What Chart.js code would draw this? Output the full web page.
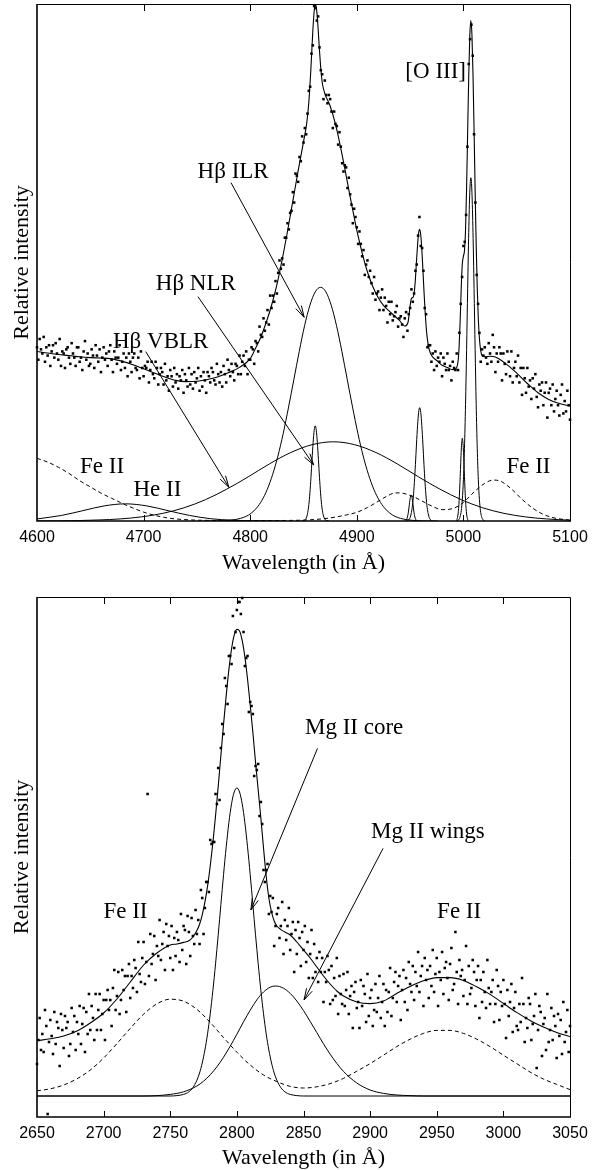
<!DOCTYPE html>
<html>
<head>
<meta charset="utf-8">
<script src="https://cdn.jsdelivr.net/npm/chart.js@4.4.1/dist/chart.umd.min.js"></script>
<style>
  html, body { margin: 0; padding: 0; background: #fff; }
  canvas { display: block; }
</style>
</head>
<body>
<canvas id="hb" width="603" height="575"></canvas>
<canvas id="mg" width="603" height="595"></canvas>
<script>
// ---------- Hβ / [O III] region ----------
const hbTicks = [4600, 4700, 4800, 4900, 5000, 5100];
const hbFluxStart = 4600, hbFluxStep = 1.25;
const hbFlux = [
  84,78,88,83,81,89,77,84,80,85, 75,82,85,79,86,81,78,88,75,82,
  81,74,83,84,79,76,86,81,79,75, 84,84,77,79,73,82,87,78,81,75,
  76,83,80,74,85,80,77,83,72,79, 84,78,81,75,82,85,78,72,82,79,
  76,79,85,73,77,81,74,79,70,81, 77,72,79,81,74,73,79,69,82,74,
  70,75,74,77,67,73,77,71,69,77, 74,66,71,74,72,66,76,68,70,63,
  73,70,65,74,67,71,64,70,68,73, 62,71,68,65,74,66,71,64,72,67,
  69,74,63,70,65,72,68,62,72,70, 67,74,72,68,66,76,71,67,72,65,
  75,71,67,78,73,70,76,72,68,76, 75,71,80,71,77,80,75,82,71,78,
  78,84,83,76,87,86,82,94,90,89, 98,92,96,102,95,109,103,109,106,116,
  110,120,126,122,127,124,137,137,144,141, 149,150,159,154,168,167,164,176,174,186,
  183,190,187,197,208,210,226,230,249,248, 242,244,229,218,216,204,213,206,202,206,
  204,198,190,198,192,191,182,188,181,173, 169,172,171,161,166,158,153,144,151,147,
  142,134,140,134,128,131,119,124,126,118, 121,115,110,118,107,110,111,102,108,112,
  102,108,104,96,106,100,106,97,99,101, 104,94,98,99,95,89,98,101,92,100,
  103,112,106,110,121,124,138,147,133,132, 121,103,100,84,85,85,77,81,73,82,
  75,79,77,81,70,79,76,73,81,73, 75,68,77,74,73,81,73,91,105,118,
  133,135,148,181,221,233,240,225,187,154, 119,105,91,77,83,80,84,79,76,86,
  81,77,90,84,72,81,77,84,81,68, 81,76,71,82,77,70,82,67,74,77,
  70,80,67,74,61,74,69,62,74,65, 68,59,69,64,71,60,55,66,63,67,
  56,62,67,50,62,64,56,66,53,59, 63,56,51,61,66,52,58,53,63,56,
  49
];
const hbFit = [
  [4600,82.0],[4610,81.2],[4620,80.5],[4630,80.0],[4640,79.4],[4650,79.0],[4660,78.8],[4670,78.4],
  [4680,77.2],[4690,75.6],[4700,73.6],[4710,71.6],[4720,69.6],[4730,68.0],[4740,67.4],[4750,67.6],
  [4760,68.4],[4770,69.8],[4780,71.8],[4790,74.3],[4800,78.5],[4805,83.5],[4810,89.0],[4815,96.0],
  [4820,104.2],[4825,114.2],[4830,126.4],[4835,140.1],[4840,154.7],[4845,169.4],[4850,183.3],
  [4853,192.3],[4855,202.5],[4857,219.3],[4858,229.5],[4859,239.2],[4860,246.4],[4861,249.8],
  [4862,248.5],[4863,243.3],[4864,235.7],[4865,227.5],[4866,220.3],[4867,214.6],[4868,210.7],
  [4870,206.7],[4875,200.7],[4880,191.9],[4885,180.2],[4890,167.0],[4895,153.5],[4900,140.6],
  [4905,129.6],[4910,120.4],[4915,113.4],[4920,108.1],[4925,104.3],[4930,101.7],[4935,99.4],
  [4940,97.0],[4945,94.3],[4948,96.0],[4950,104.1],[4951,107.2],[4952,107.9],[4953,108.4],
  [4954,111.0],[4955,117.2],[4956,125.7],[4957,133.5],[4958,139.3],[4959,141.1],[4960,138.3],
  [4961,131.3],[4962,121.8],[4963,111.4],[4964,102.0],[4965,94.4],[4966,88.9],[4967,85.2],
  [4968,82.8],[4970,80.1],[4975,77.6],[4980,75.3],[4985,74.2],[4990,73.2],[4993,73.7],[4995,77.3],
  [4996,84.4],[4997,97.6],[4998,113.2],[4999,124.5],[5000,128.0],[5001,130.7],[5002,140.7],
  [5003,161.1],[5004,188.3],[5005,215.1],[5006,234.6],[5007,242.0],[5008,235.3],[5009,216.2],
  [5010,189.3],[5011,160.0],[5012,133.5],[5013,112.6],[5014,97.7],[5015,88.5],[5016,83.2],
  [5017,80.6],[5018,79.6],[5020,79.4],[5025,79.7],[5030,79.3],[5040,76.0],[5050,71.5],[5060,66.5],
  [5070,62.0],[5080,58.8],[5090,56.8],[5100,55.6]
];
const hbILR = [
  [4756,0],[4766,0],[4776,0.2],[4786,0.7],[4796,2.2],[4801,3.8],[4806,6.3],[4811,10.0],[4816,15.3],
  [4821,22.4],[4826,31.4],[4831,42.4],[4836,55.1],[4841,68.5],[4846,82.0],[4851,94.4],[4856,104.3],
  [4861,110.8],[4866,113],[4871,110.8],[4876,104.3],[4881,94.4],[4886,82.0],[4891,68.5],[4896,55.1],
  [4901,42.4],[4906,31.4],[4911,22.4],[4916,15.3],[4921,10.0],[4926,6.3],[4931,3.8],[4936,2.2],
  [4946,0.7],[4956,0.2],[4966,0],[4976,0]
];
const hbNLR = [
  [4848,0],[4850,0.1],[4851,0.4],[4852,0.9],[4853,2.0],[4854,4.2],[4855,7.9],[4856,13.6],[4857,21.1],
  [4858,29.7],[4859,37.9],[4860,43.8],[4861,46],[4862,43.8],[4863,37.9],[4864,29.7],[4865,21.1],
  [4866,13.6],[4867,7.9],[4868,4.2],[4869,2.0],[4870,0.9],[4871,0.4],[4872,0.1],[4874,0]
];
const hbVBLR = [
  [4600,0.03],[4618,0.08],[4638,0.2],[4658,0.5],[4678,1.0],[4698,2.0],[4718,3.7],[4738,6.4],
  [4758,10.3],[4778,15.4],[4798,21.3],[4818,27.6],[4838,33.1],[4858,36.9],[4878,38.3],[4898,36.9],
  [4918,33.1],[4938,27.6],[4958,21.3],[4978,15.4],[4998,10.3],[5018,6.4],[5038,3.7],[5058,2.0],
  [5078,1.0],[5100,0.4]
];
const hbHeII = [
  [4600,1.0],[4623,2.7],[4643,5.0],[4663,7.3],[4683,8.3],[4703,7.3],[4723,5.0],[4743,2.7],
  [4763,1.1],[4783,0.4],[4803,0.1],[4830,0]
];
const hbFeII = [
  [4600,30.3],[4610,28.5],[4620,26],[4630,23],[4640,19.5],[4650,16.5],[4660,13.5],[4670,11],
  [4680,8.5],[4690,6.3],[4700,4.3],[4710,2.8],[4720,1.7],[4730,1.0],[4745,0.5],[4760,0.3],
  [4800,0.2],[4840,0.3],[4860,0.7],[4875,1.5],[4890,2.9],[4900,4.2],[4910,6.5],[4920,9.5],
  [4930,12.5],[4935,13.5],[4940,13.6],[4950,12.4],[4960,10],[4970,7.3],[4980,5.5],[4990,6.0],
  [5000,9.0],[5010,14],[5020,18.2],[5028,19.8],[5035,19.2],[5045,15.5],[5055,10.5],[5065,6.2],
  [5075,3.2],[5085,1.5],[5100,0.4]
];
const hbO3Core4959 = [
  [4947,0],[4949,0.7],[4950,1.6],[4951,3.5],[4952,6.6],[4953,11.6],[4954,18.6],[4955,27.4],
  [4956,37.2],[4957,46.1],[4958,52.5],[4959,54.8],[4960,52.5],[4961,46.1],[4962,37.2],[4963,27.4],
  [4964,18.6],[4965,11.6],[4966,6.6],[4967,3.5],[4968,1.6],[4969,0.7],[4971,0]
];
const hbO3Blue4959 = [
  [4945,0],[4946,0.3],[4947,1.1],[4948,3.1],[4949,6.8],[4950,10.8],[4951,12.6],[4952,10.8],
  [4953,6.8],[4954,3.1],[4955,1.1],[4956,0.3],[4957,0]
];
const hbO3Core5007 = [
  [4994,0],[4995,0.3],[4996,0.9],[4997,2.2],[4998,5.0],[4999,10.5],[5000,19.9],[5001,35],
  [5002,56.3],[5003,83],[5004,112.5],[5005,139.6],[5006,159],[5007,166],[5008,159],[5009,139.6],
  [5010,112.5],[5011,83],[5012,56.3],[5013,35],[5014,19.9],[5015,10.5],[5016,5.0],[5017,2.2],
  [5018,0.9],[5019,0.3],[5020,0]
];
const hbO3Blue5007 = [
  [4993,0],[4994,0.8],[4995,3.4],[4996,10.0],[4997,21.6],[4998,34.3],[4999,40],[5000,34.3],
  [5001,21.6],[5002,10.0],[5003,3.4],[5004,0.8],[5005,0]
];

// ---------- Mg II region ----------
const mgTicks = [2650, 2700, 2750, 2800, 2850, 2900, 2950, 3000, 3050];
const mgFluxStart = 2650, mgFluxStep = 1;
const mgFlux = [
  16,
  28,39,23,31,22,43,35,-9,27,38, 30,21,42,26,37,34,15,41,33,24,
  40,34,37,20,26,44,32,40,23,37, 31,45,26,36,44,22,42,31,51,33,
  45,39,28,51,33,43,51,33,41,48, 28,48,53,43,48,35,54,63,43,50,
  62,41,48,63,53,60,42,60,66,49, 60,54,68,64,52,77,61,57,69,77,
  56,67,151,60,81,66,71,80,58,75, 70,88,68,76,82,63,86,75,80,69,
  85,63,79,70,82,78,67,91,73,85, 83,66,90,82,70,89,80,76,93,81,
  88,76,103,99,81,94,107,107,102,128, 126,127,127,151,146,164,148,174,186,181,
  209,205,196,220,220,216,240,224,232,243, 247,247,241,249,232,215,219,220,192,197,
  195,191,160,165,163,166,140,147,136,113, 107,113,116,91,100,92,99,75,85,91,
  94,79,85,97,71,88,78,85,94,73, 81,87,62,83,71,87,79,65,82,73,
  85,67,77,59,71,83,59,76,62,69, 57,72,62,69,47,62,57,70,63,46,
  65,48,59,50,69,41,60,51,46,61, 45,53,62,41,50,55,34,52,57,44,
  47,34,58,45,55,51,37,61,40,49, 53,35,43,56,42,49,60,39,47,56,
  35,53,42,52,64,40,49,57,62,47, 55,60,38,53,63,47,59,43,67,56,
  52,65,48,62,55,72,52,60,65,45, 69,58,63,49,65,55,73,52,61,69,
  45,62,58,72,51,64,67,59,48,66, 74,53,56,82,62,46,68,60,63,50,
  58,75,46,65,51,54,68,62,45,58, 65,39,58,47,62,52,44,68,54,46,
  52,58,37,46,63,55,38,52,45,58, 46,29,53,40,47,56,32,44,52,35,
  33,46,37,59,46,27,39,34,49,46, 28,36,40,51,14,33,45,42,20,36,
  39,23,51,27,33,44,28,40,35,19, 41,30,38,21,47,27,32,43,22,35
];
const mgFit = [
  [2650,27.6],[2660,28.6],[2670,30.0],[2680,32.5],[2690,36.5],[2700,41.5],[2710,48.5],[2720,57.0],
  [2730,65.5],[2740,71.5],[2750,75.5],[2755,76.0],[2760,76.8],[2764,77.6],[2767,79.5],[2770,82.7],
  [2772,85.9],[2774,90.6],[2776,96.9],[2778,104.9],[2780,115.0],[2782,126.7],[2784,140.1],
  [2786,154.8],[2788,170.3],[2790,185.8],[2792,200.3],[2794,213.2],[2796,223.5],[2798,230.4],
  [2800,233.3],[2802,232.5],[2804,227.7],[2806,219.6],[2808,208.5],[2810,195.6],[2812,181.8],
  [2814,167.0],[2816,153.0],[2818,139.0],[2820,124.0],[2822,110.0],[2824,99.0],[2826,92.0],
  [2828,87.5],[2830,85.0],[2833,83.2],[2836,82.0],[2840,80.5],[2845,77.0],[2850,73.0],[2855,69.0],
  [2860,64.5],[2865,60.0],[2870,56.0],[2875,52.5],[2880,50.0],[2890,47.0],[2900,46.2],[2910,47.5],
  [2920,51.3],[2930,54.8],[2940,57.6],[2950,59.2],[2960,59.2],[2970,57.8],[2980,54.6],[2990,50.8],
  [3000,46.3],[3010,41.8],[3020,37.8],[3030,34.5],[3040,31.8],[3050,29.7]
];
const mgCore = [
  [2650,0],[2750,0],[2755,0.2],[2760,0.8],[2764,2.1],[2767,4.2],[2770,7.9],[2772,11.5],[2774,16.5],
  [2776,23.0],[2778,31.1],[2780,41.1],[2782,52.8],[2784,66.1],[2786,80.6],[2788,95.7],[2790,110.7],
  [2792,124.6],[2794,136.7],[2796,146.1],[2798,152.0],[2800,154],[2802,152.0],[2804,146.1],
  [2806,136.7],[2808,124.6],[2810,110.7],[2812,95.7],[2814,80.6],[2816,66.1],[2818,52.8],[2820,41.1],
  [2822,31.1],[2824,23.0],[2826,16.5],[2828,11.5],[2830,7.9],[2833,4.2],[2836,2.1],[2840,0.8],
  [2845,0.2],[2850,0],[3050,0]
];
const mgWings = [
  [2650,0],[2730,0],[2740,0.2],[2750,0.8],[2760,2.1],[2770,5.0],[2775,7.4],[2780,10.6],[2785,14.6],
  [2790,19.4],[2795,24.9],[2800,30.9],[2805,37.1],[2810,42.9],[2815,48.1],[2820,52.0],[2825,54.4],
  [2829,55.0],[2835,53.9],[2840,51.3],[2845,47.5],[2850,42.7],[2855,37.3],[2860,31.7],[2865,26.1],
  [2870,20.9],[2875,16.3],[2880,12.3],[2890,6.5],[2900,3.0],[2910,1.3],[2920,0.5],[2930,0.2],
  [2940,0],[3050,0]
];
const mgFeII = [
  [2650,2.6],[2660,3.6],[2670,5.5],[2680,8.6],[2690,13.0],[2700,19.0],[2710,26.2],[2720,33.8],
  [2730,40.9],[2740,46.1],[2750,48.4],[2760,47.4],[2770,43.3],[2780,36.8],[2790,29.2],[2800,21.9],
  [2810,15.5],[2820,10.5],[2830,7.2],[2840,4.8],[2850,4.0],[2860,4.6],[2870,6.2],[2880,8.8],
  [2890,12.4],[2900,16.2],[2910,20.4],[2920,24.7],[2930,28.4],[2940,31.3],[2950,32.8],[2960,32.8],
  [2970,31.3],[2980,28.4],[2990,24.7],[3000,20.4],[3010,16.2],[3020,12.0],[3030,8.5],[3040,5.8],
  [3050,3.2]
];

// ---------- annotation layout (data coordinates) ----------
const hbNotes = [
  { text: 'Hβ ILR',  x: 4784, y: 169 },
  { text: 'Hβ NLR',  x: 4749, y: 114.6 },
  { text: 'Hβ VBLR', x: 4716, y: 86.7 },
  { text: 'Fe II',   x: 4661, y: 26.3 },
  { text: 'He II',   x: 4713, y: 15.0 },
  { text: 'Fe II',   x: 5061, y: 26.3 },
  { text: '[O III]', x: 4974, y: 217.3 }
];
const hbPointers = [
  { from: [4782, 163.6], to: [4850.6, 98.5] },
  { from: [4751, 108.5], to: [4859.6, 27.1] },
  { from: [4702, 81.9],  to: [4780, 16.3] }
];
const mgNotes = [
  { text: 'Mg II core',  x: 2888,   y: 183.9 },
  { text: 'Mg II wings', x: 2943.4, y: 132.2 },
  { text: 'Fe II',       x: 2716.4, y: 92.2 },
  { text: 'Fe II',       x: 2966.8, y: 92.2 }
];
const mgPointers = [
  { from: [2860.5, 173.8], to: [2810.5, 93] },
  { from: [2909.7, 123.8], to: [2850.4, 48] }
];

// ---------- drawing ----------
const SERIF = '"Liberation Serif", "Times New Roman", serif';
const SANS = '"Liberation Sans", Arial, sans-serif';

function gridPoints(start, step, values) {
  return values.map((v, i) => ({ x: start + i * step, y: v }));
}

function curve(data, dashed, width) {
  return {
    data, showLine: true, pointRadius: 0, pointHoverRadius: 0,
    borderColor: '#000', borderWidth: width || 1,
    borderDash: dashed ? [4, 3] : [], cubicInterpolationMode: 'monotone',
    fill: false
  };
}

function dots(data) {
  return {
    data, showLine: false, pointStyle: 'rect', pointRadius: 1.8,
    pointBackgroundColor: '#000', pointBorderWidth: 0, borderWidth: 0, clip: false
  };
}

function drawPointer(ctx, x0, y0, x1, y1) {
  const ang = Math.atan2(y1 - y0, x1 - x0);
  const len = 12, spread = 0.27;
  ctx.beginPath();
  ctx.moveTo(x0, y0);
  ctx.lineTo(x1, y1);
  ctx.moveTo(x1 - len * Math.cos(ang - spread), y1 - len * Math.sin(ang - spread));
  ctx.lineTo(x1, y1);
  ctx.lineTo(x1 - len * Math.cos(ang + spread), y1 - len * Math.sin(ang + spread));
  ctx.stroke();
}

const panelDecor = {
  id: 'panelDecor',
  afterDatasetsDraw(chart, args, opts) {
    const { ctx, chartArea: a, scales: { x, y } } = chart;
    ctx.save();
    ctx.strokeStyle = '#000';
    // frame: thin top/right, heavier left/bottom
    ctx.lineWidth = 1;
    ctx.beginPath();
    ctx.moveTo(a.left, a.top + 0.5); ctx.lineTo(a.right + 0.5, a.top + 0.5);
    ctx.lineTo(a.right + 0.5, a.bottom);
    ctx.stroke();
    ctx.lineWidth = 1.6;
    ctx.beginPath();
    ctx.moveTo(a.left, a.top); ctx.lineTo(a.left, a.bottom);
    ctx.lineTo(a.right + 1, a.bottom);
    ctx.stroke();
    // inward tick marks on bottom and top edges
    ctx.lineWidth = 1;
    ctx.beginPath();
    x.ticks.forEach(t => {
      const px = Math.round(x.getPixelForValue(t.value)) + 0.5;
      if (px <= a.left + 1 || px >= a.right - 1) return;
      ctx.moveTo(px, a.bottom); ctx.lineTo(px, a.bottom - 6);
      ctx.moveTo(px, a.top); ctx.lineTo(px, a.top + 7);
    });
    ctx.stroke();
    // labels
    ctx.fillStyle = '#000';
    ctx.font = '23px ' + SERIF;
    ctx.textAlign = 'center';
    ctx.textBaseline = 'middle';
    (opts.notes || []).forEach(n => {
      ctx.fillText(n.text, x.getPixelForValue(n.x), y.getPixelForValue(n.y));
    });
    // pointers
    ctx.lineWidth = 1;
    (opts.pointers || []).forEach(p => {
      drawPointer(ctx,
        x.getPixelForValue(p.from[0]), y.getPixelForValue(p.from[1]),
        x.getPixelForValue(p.to[0]), y.getPixelForValue(p.to[1]));
    });
    ctx.restore();
  }
};

function panel(canvasId, cfg) {
  return new Chart(document.getElementById(canvasId), {
    type: 'scatter',
    data: { datasets: cfg.datasets },
    plugins: [panelDecor],
    options: {
      responsive: false,
      animation: false,
      events: [],
      layout: { padding: { top: cfg.padTop, right: 33, left: 0, bottom: 0 } },
      plugins: {
        legend: { display: false },
        tooltip: { enabled: false },
        panelDecor: { notes: cfg.notes, pointers: cfg.pointers }
      },
      scales: {
        x: {
          type: 'linear', position: 'bottom', min: cfg.xMin, max: cfg.xMax,
          afterBuildTicks: s => { s.ticks = cfg.ticks.map(v => ({ value: v })); },
          afterFit: s => { s.height = cfg.xAxisHeight; },
          grid: { display: false, drawTicks: false },
          border: { display: false },
          ticks: {
            padding: 7, color: '#000', maxRotation: 0, autoSkip: false,
            font: { family: SANS, size: 16 },
            callback: v => String(v)
          },
          title: {
            display: true, text: 'Wavelength (in Å)', color: '#000',
            font: { family: SERIF, size: 22, lineHeight: 1 },
            padding: { top: 0, bottom: 1 }
          }
        },
        y: {
          type: 'linear', min: cfg.yMin, max: cfg.yMax,
          afterFit: s => { s.width = 37; },
          grid: { display: false, drawTicks: false },
          border: { display: false },
          ticks: { display: false },
          title: {
            display: true, text: 'Relative intensity', color: '#000',
            font: { family: SERIF, size: 22, lineHeight: 1 },
            padding: { top: 11, bottom: 0 }
          }
        }
      }
    }
  });
}

panel('hb', {
  padTop: 4, xAxisHeight: 54, xMin: 4600, xMax: 5100, yMin: 0, yMax: 250, ticks: hbTicks,
  notes: hbNotes, pointers: hbPointers,
  datasets: [
    curve(hbFit, false, 1.1),
    curve(hbILR), curve(hbNLR), curve(hbVBLR), curve(hbHeII),
    curve(hbO3Core4959), curve(hbO3Blue4959), curve(hbO3Core5007), curve(hbO3Blue5007),
    curve(hbFeII, true),
    dots(gridPoints(hbFluxStart, hbFluxStep, hbFlux))
  ]
});

panel('mg', {
  padTop: 22, xAxisHeight: 53, xMin: 2650, xMax: 3050, yMin: -10.5, yMax: 249.5, ticks: mgTicks,
  notes: mgNotes, pointers: mgPointers,
  datasets: [
    curve(mgFit, false, 1.1),
    curve(mgCore), curve(mgWings),
    curve(mgFeII, true),
    dots(gridPoints(mgFluxStart, mgFluxStep, mgFlux))
  ]
});
</script>
</body>
</html>
